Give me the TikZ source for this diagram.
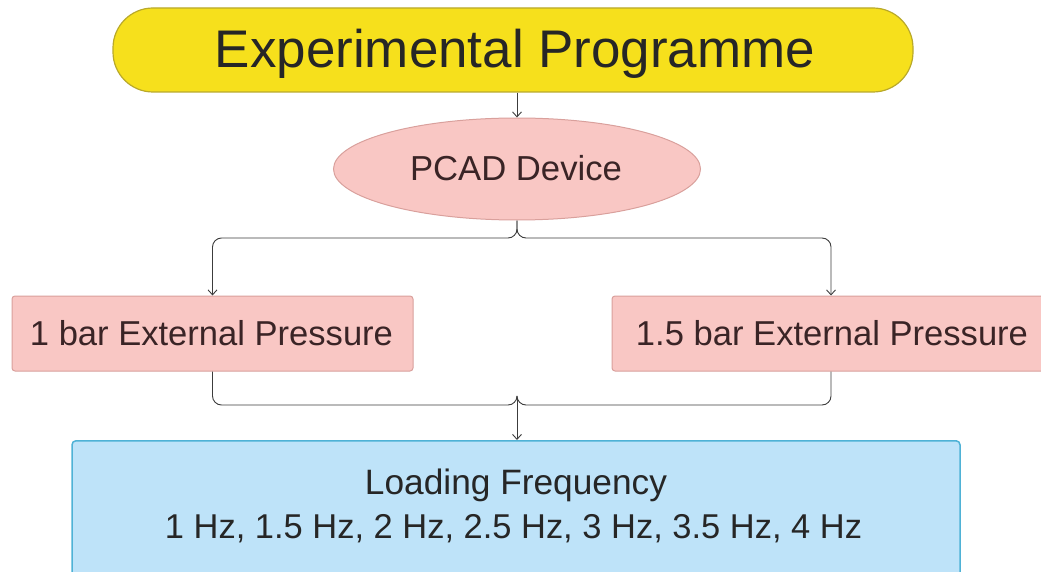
\documentclass[tikz,border=0pt]{standalone}
\usepackage{fontspec}
\setmainfont{Liberation Sans}
\usetikzlibrary{shapes.geometric,arrows.meta}
\definecolor{ylw}{HTML}{F6E01C}
\definecolor{ylwline}{HTML}{B9A92A}
\definecolor{pinkfill}{HTML}{F9C7C4}
\definecolor{pinkline}{HTML}{D9A09C}
\definecolor{bluefill}{HTML}{BEE3F9}
\definecolor{blueline}{HTML}{4FB2D6}
\definecolor{txt}{HTML}{3A2426}
\definecolor{conn}{HTML}{3C3C3C}
\tikzset{
  titlebox/.style={draw=ylwline, fill=ylw, line width=1.2pt, rounded corners=40pt, minimum width=800pt, minimum height=84pt, inner sep=0pt},
  devell/.style={ellipse, draw=pinkline, fill=pinkfill, line width=1pt, minimum width=367pt, minimum height=102pt, inner sep=0pt},
  presbox/.style={draw=pinkline, fill=pinkfill, line width=1pt, rounded corners=3pt, minimum height=75pt, inner sep=0pt},
  freqbox/.style={draw=blueline, fill=bluefill, line width=1.5pt, rounded corners=4pt, inner sep=0pt},
  lbl/.style={anchor=base, inner sep=0pt, text=txt},
  conn/.style={draw=conn, line width=0.9pt, rounded corners=9pt},
  arr/.style={-{Straight Barb[length=5pt,width=9pt]}}
}
\begin{document}
\begin{tikzpicture}[x=1pt,y=-1pt]
\useasboundingbox (0,0) rectangle (1041,572);
\begin{scope}
\clip (0,0) rectangle (1041,572);
\node[titlebox] (title) at (513,50) {};
\node[devell] (dev) at (517,169) {};
\node[presbox, minimum width=401pt] (p1) at (212.5,333.5) {};
\node[presbox, minimum width=440pt] (p2) at (832,333.5) {};
\node[freqbox, minimum width=888pt, minimum height=160pt, anchor=north] (freq) at (516,440) {};
\node[lbl, text=black!85] (tl) at (515,68) {\resizebox{600pt}{!}{Experimental Programme}};
\node[lbl] (dl) at (516,181) {\resizebox{212pt}{!}{PCAD Device}};
\node[lbl] (p1l) at (211.5,345) {\resizebox{363pt}{!}{1 bar External Pressure}};
\node[lbl] (p2l) at (832,345) {\resizebox{392pt}{!}{1.5 bar External Pressure}};
\node[lbl, text=black!85] (fl1) at (516,494) {\resizebox{302pt}{!}{Loading Frequency}};
\node[lbl, text=black!85] (fl2) at (513.5,538) {\resizebox{697pt}{!}{1 Hz, 1.5 Hz, 2 Hz, 2.5 Hz, 3 Hz, 3.5 Hz, 4 Hz}};
\coordinate (split) at (517,238);
\coordinate (merge) at (517,405);
\draw[conn, arr] (title.south -| dev.north) -- (dev.north);
\draw[conn, arr] (dev.south) -- (split) -| (p1.north);
\draw[conn, arr] (dev.south) -- (split) -| ([xshift=-1pt]p2.north);
\draw[conn] (p1.south) |- (merge) -- ([yshift=8pt]merge);
\draw[conn] ([xshift=-1pt]p2.south) |- (merge) -- ([yshift=8pt]merge);
\draw[conn, arr] ([yshift=6pt]merge) -- (freq.north -| merge);
\end{scope}
\end{tikzpicture}
\end{document}
